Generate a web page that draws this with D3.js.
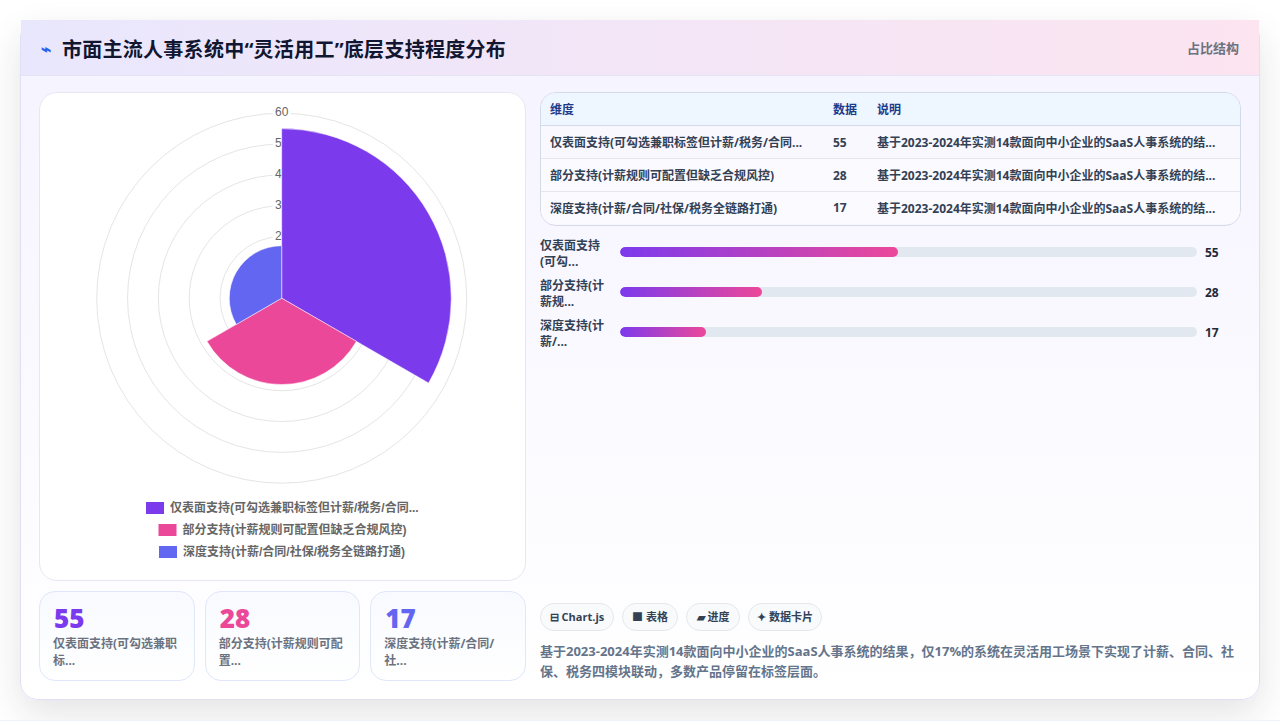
<!DOCTYPE html>
<html lang="zh">
<head>
<meta charset="utf-8">
<script src="https://cdn.jsdelivr.net/npm/d3@7"></script>
<style>
* { box-sizing: border-box; }
html, body { margin: 0; padding: 0; width: 1280px; height: 721px; overflow: hidden; background: #fff; }
body { font-family: "Open Sans", "Noto Sans CJK SC", sans-serif; color: #111827; position: relative; }
.abs { position: absolute; }
#card { left: 20px; top: 20px; width: 1240px; height: 680px; border-radius: 18px; border: 1px solid #e0e0f5;
  background: linear-gradient(180deg, #f5f3ff 0%, #ffffff 100%); box-shadow: 0 14px 36px rgba(30,30,50,.12); }
#pageEdge { left: 0; top: 720px; width: 1280px; height: 1px; background: #eef2fb; }
#head { left: 0; top: -1px; width: 1238px; height: 56px; background: linear-gradient(90deg, #e9e7fd 0%, #fce4f0 100%); border-bottom: 1px solid #e4e4f6; }
#icon { left: 20px; top: 18px; font-size: 17px; font-weight: 700; color: #2563eb; line-height: 22px; }
#title { left: 41px; top: 15px; font-size: 20px; font-weight: 700; line-height: 30px; letter-spacing: .27px; color: #111631; white-space: nowrap; }
#tag { left: 1166px; top: 18px; font-size: 13px; font-weight: 700; line-height: 20px; color: #6b7280; }
#polarBox { left: 39px; top: 92px; width: 487px; height: 489px; background: #fff; border: 1px solid #e5e7f3; border-radius: 18px; }
#polar { left: 0; top: 0; }
.stat { top: 591px; width: 155.67px; height: 90px; border: 1px solid #dfe7fa; border-radius: 16px; background: linear-gradient(180deg, #f8faff, #ffffff); padding: 11px 13px 0 13px; }
.stat .num { font-size: 26px; font-weight: 800; line-height: 30px; margin-left: 1px; }
.stat .lab { font-size: 12px; font-weight: 700; line-height: 16.5px; color: #6b7280; margin-top: 3px; }
#tableBox { left: 540px; top: 92px; width: 701px; height: 134px; border: 1px solid #d5dae8; border-radius: 16px; overflow: hidden; }
table { border-collapse: collapse; width: 699px; table-layout: fixed; font-size: 12px; }
th { height: 33px; background: #eef6ff; color: #1e3a8a; text-align: left; font-weight: 700; padding: 1px 9px 0; border-bottom: 1px solid #d5dae8; }
td { height: 33px; color: #334155; font-weight: 700; padding: 1px 9px 0; border-bottom: 1px solid #e5e7ef; white-space: nowrap; overflow: hidden; }
tr:last-child td { border-bottom: 0; padding-top: 0; }
.barLab { left: 540px; width: 72px; font-size: 12px; font-weight: 700; line-height: 16px; color: #334155; }
.track { left: 620px; width: 577px; height: 10px; border-radius: 5px; background: #e2e8f0; overflow: hidden; }
.fill { height: 10px; border-radius: 5px; background: linear-gradient(90deg, #7c3aed, #ec4899); }
.barVal { left: 1205px; font-size: 12px; font-weight: 700; line-height: 16px; color: #1f2937; }
.chip { top: 603px; height: 28px; border: 1px solid #e5e7eb; border-radius: 14px; background: #f8fafc; font-size: 11px; font-weight: 700; line-height: 26px; color: #334155; text-align: center; white-space: nowrap; }
#note { left: 540px; top: 641px; width: 700px; font-size: 13px; font-weight: 700; line-height: 20px; color: #64748b; }
</style>
</head>
<body>
<div id="card" class="abs">
  <div id="head" class="abs">
    <div id="icon" class="abs">⌁</div>
    <div id="title" class="abs">市面主流人事系统中“灵活用工”底层支持程度分布</div>
    <div id="tag" class="abs">占比结构</div>
  </div>
</div>
<div id="pageEdge" class="abs"></div>
<div id="polarBox" class="abs"><svg id="polar" class="abs" width="485" height="487"></svg></div>
<div id="tableBox" class="abs"></div>
<div id="note" class="abs">基于2023-2024年实测14款面向中小企业的SaaS人事系统的结果，仅17%的系统在灵活用工场景下实现了计薪、合同、社保、税务四模块联动，多数产品停留在标签层面。</div>
<script>
// chart data
var categories = ["仅表面支持(可勾选兼职标签但计薪/税务/合同模块未打通)", "部分支持(计薪规则可配置但缺乏合规风控)", "深度支持(计薪/合同/社保/税务全链路打通)"];
var legendLabels = ["仅表面支持(可勾选兼职标签但计薪/税务/合同...", "部分支持(计薪规则可配置但缺乏合规风控)", "深度支持(计薪/合同/社保/税务全链路打通)"];
var tableLabels = ["仅表面支持(可勾选兼职标签但计薪/税务/合同...", "部分支持(计薪规则可配置但缺乏合规风控)", "深度支持(计薪/合同/社保/税务全链路打通)"];
var barLabels = ["仅表面支持(可勾...", "部分支持(计薪规...", "深度支持(计薪/..."];
var statLabels = ["仅表面支持(可勾选兼职标...", "部分支持(计薪规则可配置...", "深度支持(计薪/合同/社..."];
var values = [55, 28, 17];
var colors = ["#7c3aed", "#ec4899", "#6366f1"];
var radialTicks = [10, 20, 30, 40, 50, 60];
var headers = ["维度", "数据", "说明"];
var noteShort = "基于2023-2024年实测14款面向中小企业的SaaS人事系统的结...";
var chips = ["⊟ Chart.js", "■ 表格", "▰ 进度", "✦ 数据卡片"];
var chipLefts = [540, 622, 686, 748];
var chipWidths = [74, 56, 54, 74];
var statLefts = [39, 204.67, 370.33];

// polar chart
var polar = d3.select("#polar");
var cx = 241.7, cy = 205.2;
var r = d3.scaleLinear().domain([0, 60]).range([0, 185]);
var g = polar.append("g").attr("transform", `translate(${cx},${cy})`);

g.selectAll("circle.grid").data(radialTicks).enter().append("circle")
  .attr("class", "grid")
  .attr("r", d => r(d))
  .attr("fill", "none")
  .attr("stroke", "#e5e5e5");

var tickLabels = g.selectAll("g.tick").data(radialTicks).enter().append("g").attr("class", "tick");
tickLabels.append("rect")
  .attr("x", -9).attr("width", 18)
  .attr("y", d => -r(d) - 7).attr("height", 14)
  .attr("fill", "#fff");
tickLabels.append("text")
  .attr("y", d => -r(d) - 1)
  .attr("dy", "0.35em")
  .attr("text-anchor", "middle")
  .attr("font-family", "Liberation Sans, Arial, sans-serif")
  .attr("font-size", 12)
  .attr("fill", "#666")
  .text(d => d);

var angle = d3.scaleBand().domain(categories).range([0, 2 * Math.PI]).paddingInner(0);
var arc = d3.arc().innerRadius(0)
  .outerRadius((d, i) => r(d))
  .startAngle((d, i) => angle(categories[i]))
  .endAngle((d, i) => angle(categories[i]) + angle.bandwidth());
g.selectAll("path.slice").data(values).enter().append("path")
  .attr("class", "slice")
  .attr("d", (d, i) => arc(d, i))
  .attr("fill", (d, i) => colors[i])
  .attr("stroke", "#fff")
  .attr("stroke-opacity", 0.5)
  .attr("stroke-width", 1);

// legend
var legendY = d3.scalePoint().domain(d3.range(3)).range([409, 453]);
var legendX = [106, 118.5, 119];
var legend = polar.selectAll("g.leg").data(legendLabels).enter().append("g")
  .attr("class", "leg")
  .attr("transform", (d, i) => `translate(${legendX[i]},${legendY(i)})`);
legend.append("rect").attr("width", 18).attr("height", 12).attr("fill", (d, i) => colors[i]);
legend.append("text")
  .attr("x", 24).attr("y", 6).attr("dy", "0.35em")
  .attr("font-family", "Liberation Sans, Arial, 'Noto Sans CJK SC', sans-serif")
  .attr("font-size", 12).attr("font-weight", 600).attr("fill", "#666")
  .text(d => d);

// table
var rows = categories.map((c, i) => [tableLabels[i], values[i], noteShort]);
var table = d3.select("#tableBox").append("table");
var widths = [283, 44, 372];
table.append("colgroup").selectAll("col").data(widths).enter().append("col").style("width", d => d + "px");
table.append("tr").selectAll("th").data(headers).enter().append("th").style("height", "32px").text(d => d);
table.selectAll("tr.row").data(rows).enter().append("tr").attr("class", "row")
  .style("background", (d, i) => ["#faf8ff", "#fafaff", "#fbfaff"][i])
  .selectAll("td").data(d => d).enter().append("td").text(d => d);

// progress bars
var barX = d3.scaleLinear().domain([0, 114]).range([0, 577]);
var barTop = [236, 276, 316];
var body = d3.select("body");
barLabels.forEach(function(label, i) {
  body.append("div").attr("class", "abs barLab").style("top", (barTop[i] + 2) + "px").text(label);
  body.append("div").attr("class", "abs track").style("top", (barTop[i] + 11) + "px")
    .append("div").attr("class", "fill").style("width", barX(values[i]) + "px");
  body.append("div").attr("class", "abs barVal").style("left", "1205px").style("top", (barTop[i] + 9) + "px").text(values[i]);
});

// stat cards
values.forEach(function(v, i) {
  var s = body.append("div").attr("class", "abs stat").style("left", statLefts[i] + "px");
  s.append("div").attr("class", "num").style("color", colors[i]).text(v);
  s.append("div").attr("class", "lab").text(statLabels[i]);
});

// chips
chips.forEach(function(c, i) {
  body.append("div").attr("class", "abs chip")
    .style("left", chipLefts[i] + "px").style("width", chipWidths[i] + "px").text(c);
});
</script>
</body>
</html>
